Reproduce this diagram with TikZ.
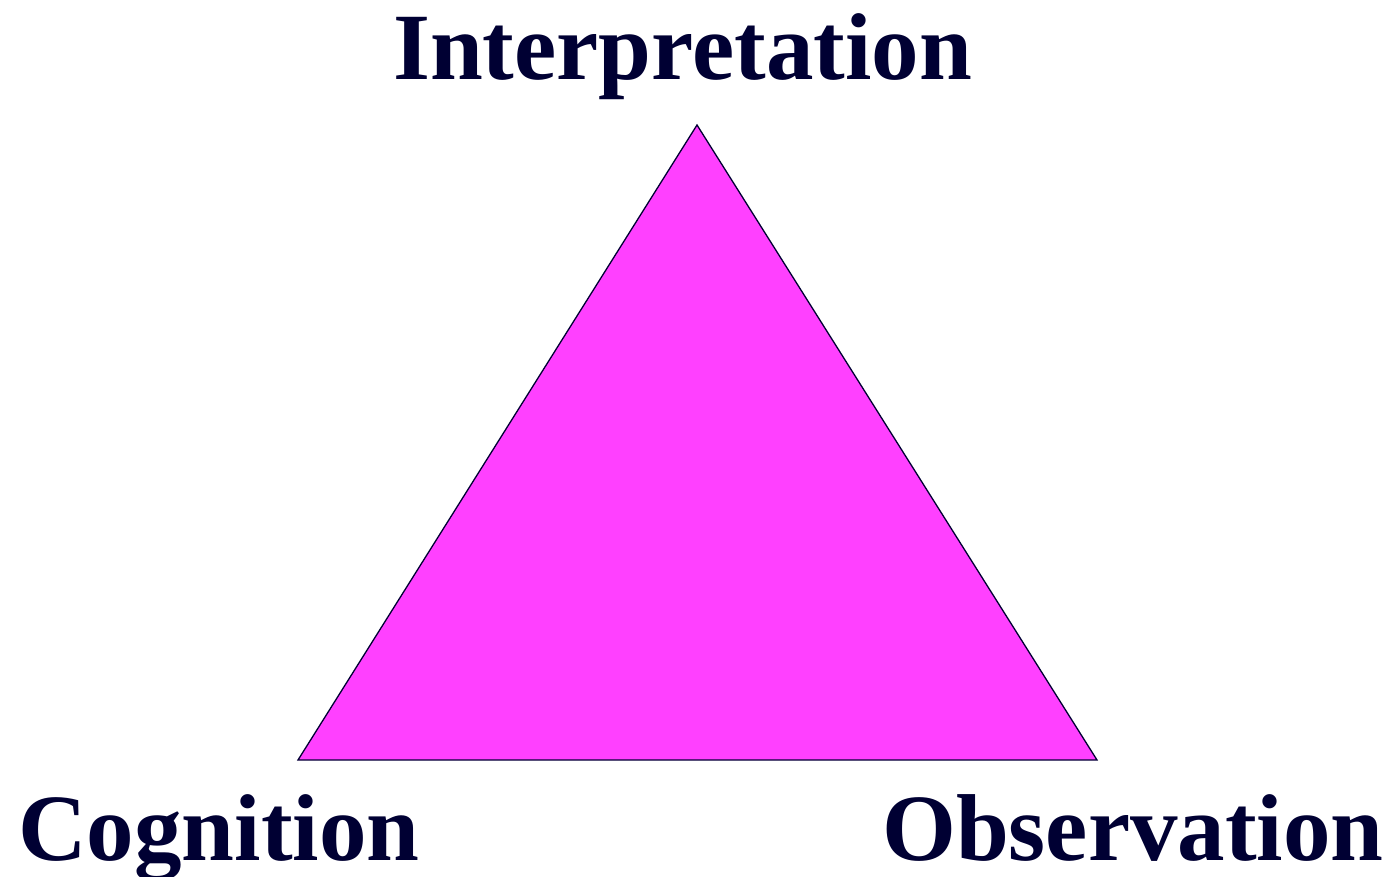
\documentclass[tikz,border=0pt]{standalone}
\usepackage{fontspec}
\setmainfont{Liberation Serif}
\definecolor{txt}{HTML}{000033}
\definecolor{mag}{HTML}{FF40FF}
\begin{document}
\begin{tikzpicture}[x=1pt,y=-1pt,
  lbl/.style={inner sep=0pt,anchor=base west,text=txt,font=\fontsize{95}{95}\selectfont\bfseries}]
\useasboundingbox (0,0) rectangle (1391,877);
\coordinate (top) at (697,125);
\coordinate (bl) at (298,760);
\coordinate (br) at (1097,760);
\filldraw[fill=mag,draw=txt,line width=1.3pt,line join=miter] (top) -- (bl) -- (br) -- cycle;
\node[lbl] (interp) at (393,80) {Interpretation};
\node[lbl] (cog) at (18,860) {Cognition};
\node[lbl] (obs) at (882,860) {Observation};
\end{tikzpicture}
\end{document}
